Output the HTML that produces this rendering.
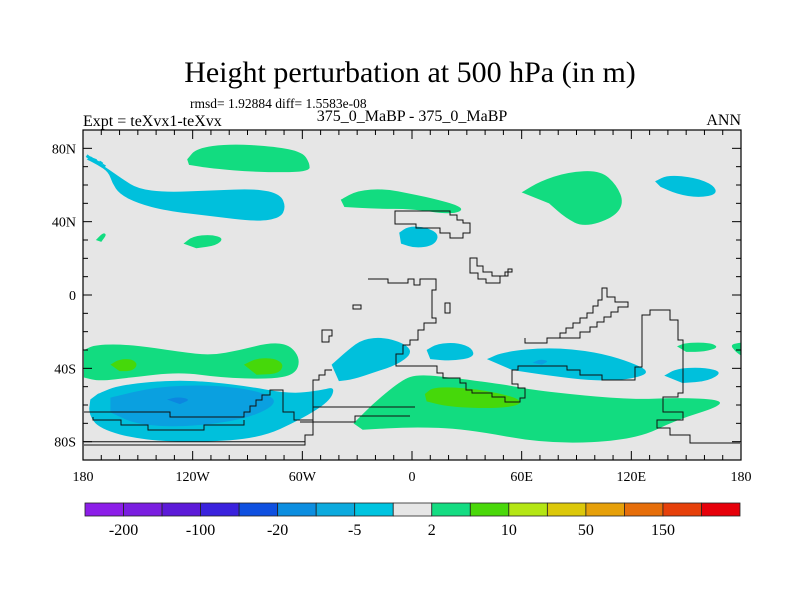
<!DOCTYPE html>
<html><head><meta charset="utf-8"><style>
body{margin:0;background:#fff;}
svg text{font-family:"Liberation Serif",serif;fill:#000;}
</style></head><body>
<svg id="chart" width="800" height="600" xmlns="http://www.w3.org/2000/svg">
<text x="410" y="82" font-size="30" text-anchor="middle">Height perturbation at 500 hPa (in m)</text>
<text x="190" y="108" font-size="13.5">rmsd= 1.92884 diff= 1.5583e-08</text>
<text x="83" y="126" font-size="16">Expt = teXvx1-teXvx</text>
<text x="412" y="121" font-size="16" text-anchor="middle">375_0_MaBP - 375_0_MaBP</text>
<text x="741" y="125" font-size="16" text-anchor="end">ANN</text>
<rect x="83" y="130" width="658" height="330" fill="#e6e6e6"/>
<g id="fills"></g>
<g id="coast" fill="none" stroke="#111" stroke-width="1">
<path d="M395 211H450V215H457V220H463V223H470V233H463V238H450V233H440V228H416V224H395Z"/>
<path d="M470 258H477V266H483V272H492V276H505V272H512V269H508V276H500V283H486V279H478V273H470Z"/>
<path d="M368 279H388V283H408V279H414V285H420V279H436V290H432V318H436V323H424V330H418V340H410V345H403V354H396V366H437V373H443V378H460V383H466V390H472V393H492V397H505V402H520V398H525V388H518V384H512V370H518V366H567V370H580V375H602V380H635V367H642V315H650V310H670V320H678V340H683V393H678V397H663V412H683V420H657V428H670V435H690V443H740"/>
<path d="M525 338V343H547V338H560V333H566V328H573V323H580V318H587V313H593V306H598V300H602V288H607V297H615V302H628V307H618V312H611V317H604V322H597V327H590V332H580V338H547"/>
<path d="M84 412H170V417H244V412H250V406H256V400H262V395H270V390H283V412H294V420H313V408V380H319V375H325V370H332"/>
<path d="M93 417V420H121V425H148V430H204V425H244V420"/>
<path d="M84 441.7H305M84 445H305V435H313V407H415"/>
<path d="M300 422H355V416H410"/>
<path d="M322 330H332V336H329V342H322Z M353 305H361V309H353Z M445 303H450V313H445Z"/>
</g>
<g id="axes"></g>
<g id="cbar"></g>
</svg>
<script>
const NS="http://www.w3.org/2000/svg";
const X0=83,X1=741,Y0=130,Y1=460;
function lonX(l){return X0+(l+180)*(X1-X0)/360;}
function latY(p){return 295-p*(Y1-Y0)/180;}
// contour region arrays (lon, lat) — level indices into colour table
const levelCyan="#00c0dc", levelBlue="#0aa0e0", levelDeep="#0c86e0", levelGreen="#12dc80", levelLime="#46d80a";
const regionLevels=["green","cyan","green","green","green","cyan","green","cyan","green","lime","lime","cyan","blue","deep","cyan","cyan","cyan","blue","cyan","green","green","green","lime","cyan"];
const regionShapes=[
 [[-123,74],[-118,80],[-100,82.5],[-75,81],[-60,78],[-56,72],[-56,67],[-85,67],[-110,69],[-122,71]],
 [[-178,74],[-172,71],[-166,67],[-164,61],[-160,55],[-150,50],[-135,46],[-110,43],[-85,40],[-72,42],[-69,48],[-72,55],[-85,58],[-110,57],[-135,56],[-150,58],[-158,63],[-168,70],[-176,75]],
 [[-125,28],[-120,32],[-110,33],[-103,31],[-107,27],[-118,25.5]],
 [[-173,30],[-169,34],[-167,33],[-170,29]],
 [[-39,52],[-30,57],[-15,58],[0,55],[10,53],[25,49],[28,46],[20,44],[0,47],[-20,47],[-37,48]],
 [[-7,34],[-2,37.5],[8,37],[15,33],[12,27],[2,25.5],[-6,28]],
 [[60,56],[70,62],[85,67],[103,68],[112,60],[116,50],[110,42],[94,37],[84,42],[75,50]],
 [[133,62],[140,65.5],[155,64],[165,60],[167,55],[157,53],[145,55],[136,59]],
 [[-179.5,-30],[-173,-27],[-154,-27],[-127,-31],[-110,-33],[-94,-30],[-78,-26],[-67,-27],[-61,-35],[-64,-43.5],[-78,-46],[-105,-45],[-127,-42],[-154,-45],[-171,-47],[-179.5,-45]],
 [[-165,-38],[-160,-35],[-153,-35],[-150,-38],[-153,-41.5],[-160,-41.5]],
 [[-92,-38],[-85,-34.5],[-75,-34.5],[-70,-38],[-73,-43],[-85,-43.5]],
 [[-172,-54],[-160,-49],[-127,-46],[-94,-49],[-67,-54],[-50,-52],[-42,-50],[-45,-58],[-61,-68],[-83,-78],[-116,-80.5],[-149,-79],[-171,-73],[-177,-65],[-176,-57]],
 [[-165,-56],[-140,-50],[-110,-49],[-85,-52],[-72,-58],[-88,-67],[-120,-72],[-150,-71],[-165,-64]],
 [[-134,-57],[-128,-55.5],[-121,-57],[-127,-59.5]],
 [[-44,-38],[-35,-30],[-27,-24],[-15,-23],[-3,-27],[0,-32],[-8,-38],[-20,-42],[-32,-46],[-40,-47]],
 [[8,-30],[14,-26.5],[25,-26],[33,-29],[34,-34],[22,-36],[10,-35]],
 [[41,-35],[50,-31],[75,-28.5],[100,-31],[118,-36],[131,-42],[120,-46],[100,-47],[75,-44],[55,-41]],
 [[66,-37],[70,-35],[75,-36],[71,-38]],
 [[138,-44],[145,-40],[160,-39.5],[170,-42],[162,-47],[148,-48]],
 [[145,-28],[150,-26],[163,-26],[168,-28.5],[160,-31],[150,-31]],
 [[180,-26],[174,-27],[177,-31],[180,-33]],
 [[-32,-70],[-20,-58],[-5,-46],[3,-43.5],[17,-44.5],[52,-49],[64,-51.5],[95,-55],[122,-57],[145,-56],[169,-57],[168,-61],[145,-68],[122,-79],[75,-81.5],[29,-73],[0,-72],[-27,-73.5]],
 [[7,-54],[12,-50],[35,-51],[58,-56],[60,-60],[45,-62],[20,-61],[8,-58]],
 [[-178,76],[-176,74.5],[-172,73],[-170,72],[-168,70]]
];
const colorFor={green:levelGreen,cyan:levelCyan,blue:levelBlue,deep:levelDeep,lime:levelLime};
const fills=document.getElementById('fills');
regionShapes.forEach((pts,i)=>{
  const p=document.createElementNS(NS,'path');
  
  
  let d='';
  pts.forEach((q,j)=>{
    const x=lonX(q[0]),y=latY(q[1]);
    if(j===0){d+='M'+x+' '+y;}
    else{const pr=pts[j-1];const mx=(lonX(pr[0])+x)/2,my=(latY(pr[1])+y)/2;d+=' Q'+lonX(pr[0])+' '+latY(pr[1])+' '+mx+' '+my;}
  });
  const l=pts[pts.length-1];d+=' L'+lonX(l[0])+' '+latY(l[1])+'Z';
  p.setAttribute('d',d);
  p.setAttribute('fill',colorFor[regionLevels[i]]);
  if(i===regionShapes.length-1){p.setAttribute('fill','none');p.setAttribute('stroke',levelCyan);p.setAttribute('stroke-width','3');p.setAttribute('stroke-dasharray','4 3');}
  fills.appendChild(p);
});
// axes
const lonLabels=["180","120W","60W","0","60E","120E","180"];
const lonTicks=[-180,-120,-60,0,60,120,180];
const latLabels=["80N","40N","0","40S","80S"];
const latTicks=[80,40,0,-40,-80];
const ax=document.getElementById('axes');
function ln(x1,y1,x2,y2,n){const e=document.createElementNS(NS,'line');e.setAttribute('x1',x1);e.setAttribute('y1',y1);e.setAttribute('x2',x2);e.setAttribute('y2',y2);e.setAttribute('stroke','#000');e.setAttribute('stroke-width','1');


ax.appendChild(e);}
for(let l=-180;l<=180;l+=10){const x=lonX(l),len=(l%60===0)?9:5;ln(x,Y1,x,Y1-len,'x-tick');ln(x,Y0,x,Y0+len,'x-tick');}
for(let p=-90;p<=90;p+=10){const y=latY(p),len=(p%40===0)?9:5;ln(X0,y,X0+len,y,'y-tick');ln(X1,y,X1-len,y,'y-tick');}
const fr=document.createElementNS(NS,'rect');fr.setAttribute('x',X0);fr.setAttribute('y',Y0);fr.setAttribute('width',X1-X0);fr.setAttribute('height',Y1-Y0);fr.setAttribute('fill','none');fr.setAttribute('stroke','#000');fr.setAttribute('stroke-width','1.2');


ax.appendChild(fr);
lonTicks.forEach((l,i)=>{const t=document.createElementNS(NS,'text');t.setAttribute('x',lonX(l));t.setAttribute('y',481);t.setAttribute('font-size','14');t.setAttribute('text-anchor','middle');t.textContent=lonLabels[i];


ax.appendChild(t);});
latTicks.forEach((p,i)=>{const t=document.createElementNS(NS,'text');t.setAttribute('x',76);t.setAttribute('y',latY(p)+5);t.setAttribute('font-size','14');t.setAttribute('text-anchor','end');t.textContent=latLabels[i];


ax.appendChild(t);});
// colorbar
const cbColors=["#8c1ee8","#7a1ee0","#5c1ad8","#3a22dd","#0f50e0","#0c8ee0","#0caade","#00c4e0","#e6e6e6","#14dc82","#4ad80a","#b4e614","#dcc80a","#e6a00a","#e66e0a","#e6400a","#e6000a"];
const cbLabels=["-200","-100","-20","-5","2","10","50","150"];
const cb=document.getElementById('cbar');
const cbx=85,cbw=655/cbColors.length;
cbColors.forEach((c,i)=>{const r=document.createElementNS(NS,'rect');r.setAttribute('x',cbx+i*cbw);r.setAttribute('y',503);r.setAttribute('width',cbw);r.setAttribute('height',13);r.setAttribute('fill',c);r.setAttribute('stroke','#222');r.setAttribute('stroke-width','0.8');


cb.appendChild(r);});
cbLabels.forEach((s,i)=>{const t=document.createElementNS(NS,'text');t.setAttribute('x',cbx+(2*i+1)*cbw);t.setAttribute('y',535);t.setAttribute('font-size','16');t.setAttribute('text-anchor','middle');t.textContent=s;


cb.appendChild(t);});
</script>
</body></html>
